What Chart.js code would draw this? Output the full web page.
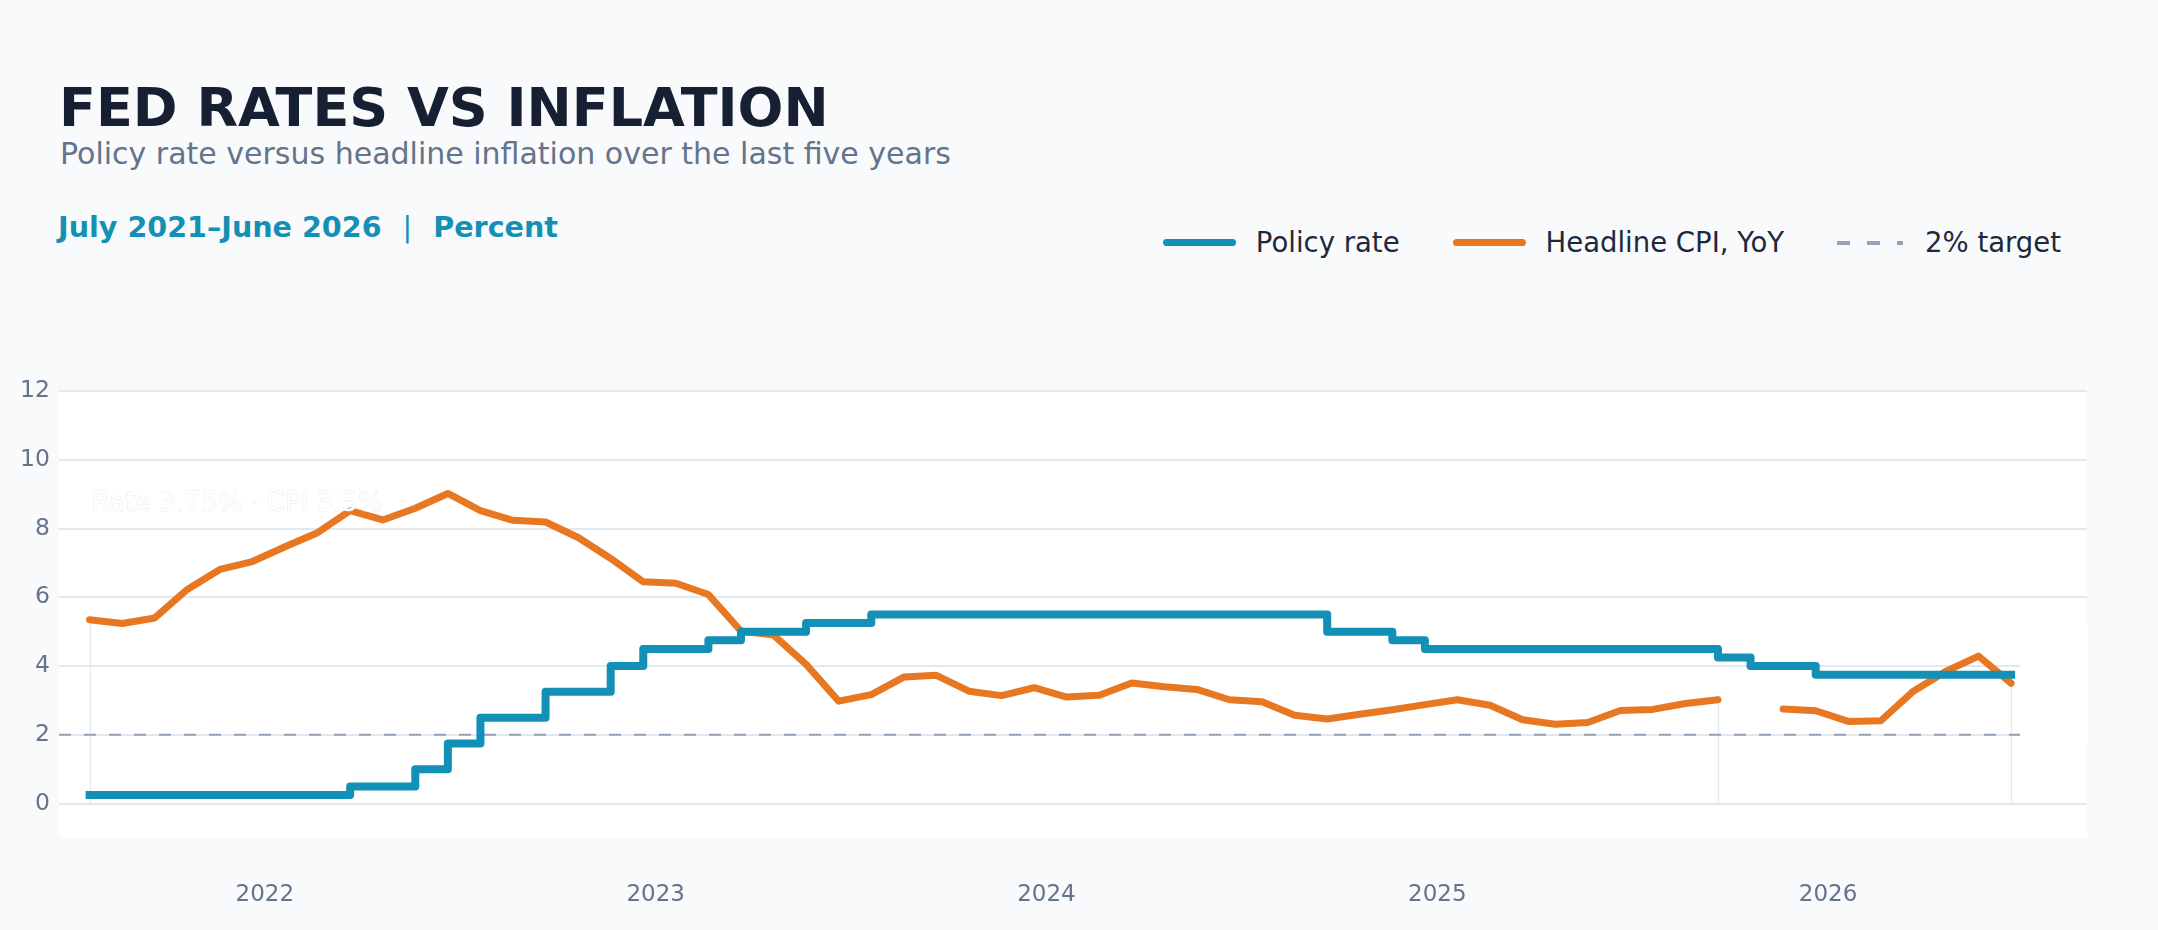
<!DOCTYPE html>
<html>
<head>
<meta charset="utf-8">
<title>Fed rates vs inflation</title>
<script src="https://cdn.jsdelivr.net/npm/chart.js@4.4.1/dist/chart.umd.min.js"></script>
<style>
	html, body { margin: 0; padding: 0; background: #f8fafc; }
	body { width: 2158px; height: 930px; position: relative; overflow: hidden; font-family: "DejaVu Sans", sans-serif; }
	#chart { position: absolute; left: 0; top: 0; }
	.title { position: absolute; left: 59px; top: 81px; font-size: 54px; line-height: 54px; font-weight: bold; color: #172033; white-space: nowrap; }
	.subtitle { position: absolute; left: 60px; top: 139px; font-size: 30px; line-height: 30px; color: #64748b; white-space: nowrap; }
	.period { position: absolute; left: 58px; top: 213px; font-size: 28.6px; line-height: 28px; font-weight: bold; color: #1590b5; white-space: nowrap; }
	.period .sep { margin: 0 21px; font-weight: normal; }
	.legend { position: absolute; right: 97px; top: 229px; display: flex; align-items: center; font-size: 27.5px; line-height: 27px; color: #1e293b; white-space: nowrap; }
	.legend .item { display: flex; align-items: center; margin-left: 53px; }
	.legend .item:first-child { margin-left: 0; }
	.legend .sw { width: 73px; height: 7px; border-radius: 3.5px; margin-right: 20px; }
	.legend .sw.dash { width: 66px; height: 4px; border-radius: 0; margin-right: 22px; background: repeating-linear-gradient(to right, #94a3b8 0 13px, transparent 13px 30px); }
</style>
</head>
<body>
<div class="title">FED RATES VS INFLATION</div>
<div class="subtitle">Policy rate versus headline inflation over the last five years</div>
<div class="period">July 2021–June 2026<span class="sep">|</span>Percent</div>
<div class="legend">
	<div class="item"><span class="sw" style="background:#1290b6"></span>Policy rate</div>
	<div class="item"><span class="sw" style="background:#e87722"></span>Headline CPI, YoY</div>
	<div class="item"><span class="sw dash"></span>2% target</div>
</div>
<canvas id="chart" width="2158" height="930"></canvas>
<script>
// Jul 2021 .. Jun 2026, one entry per month
var monthNames = ['Jan', 'Feb', 'Mar', 'Apr', 'May', 'Jun', 'Jul', 'Aug', 'Sep', 'Oct', 'Nov', 'Dec'];
var months = [];
for (var m = 0; m < 60; m++) {
	var mi = (6 + m) % 12;
	months.push(monthNames[mi] + ' ' + (2021 + Math.floor((6 + m) / 12)));
}

var policyRate = [
	0.25, 0.25, 0.25, 0.25, 0.25, 0.25, 0.25, 0.25, 0.5, 0.5,
	1.0, 1.75, 2.5, 2.5, 3.25, 3.25, 4.0, 4.5, 4.5, 4.75,
	5.0, 5.0, 5.25, 5.25, 5.5, 5.5, 5.5, 5.5, 5.5, 5.5,
	5.5, 5.5, 5.5, 5.5, 5.5, 5.5, 5.5, 5.5, 5.0, 5.0,
	4.75, 4.5, 4.5, 4.5, 4.5, 4.5, 4.5, 4.5, 4.5, 4.5,
	4.25, 4.0, 4.0, 3.75, 3.75, 3.75, 3.75, 3.75, 3.75, 3.75
];

// headline CPI, year over year; Nov 2025 missing
var headlineCpi = [
	5.35, 5.24, 5.40, 6.23, 6.81, 7.04, 7.47, 7.88, 8.52, 8.25,
	8.59, 9.02, 8.52, 8.24, 8.19, 7.74, 7.13, 6.45, 6.41, 6.08,
	5.02, 4.90, 4.05, 2.98, 3.17, 3.68, 3.73, 3.27, 3.14, 3.37,
	3.10, 3.15, 3.51, 3.40, 3.32, 3.02, 2.96, 2.57, 2.46, 2.60,
	2.73, 2.88, 3.02, 2.86, 2.44, 2.31, 2.36, 2.71, 2.74, 2.91,
	3.02, null, 2.75, 2.70, 2.39, 2.41, 3.27, 3.85, 4.29, 3.50
];

var targetRate = 2;
var yTicks = [0, 2, 4, 6, 8, 10, 12];

// year labels sit just before each January
var yearTicks = [];
var yearLabels = [];
months.forEach(function(label, i) {
	if (label.indexOf('Jan') === 0) {
		yearTicks.push(i - 0.62);
		yearLabels.push(label.slice(4));
	}
});

var xMin = -0.94;
var xMax = 61.33;
var last = months.length - 1;

function toPoints(arr) {
	return arr.map(function(v, i) { return {x: i, y: v}; });
}

// white plot panel behind grid
var panel = {
	id: 'panel',
	beforeDraw: function(chart) {
		var a = chart.chartArea, ctx = chart.ctx;
		ctx.save();
		ctx.fillStyle = '#ffffff';
		ctx.fillRect(a.left, a.top, a.right - a.left, a.bottom - a.top);
		ctx.restore();
	}
};

// thin drop lines from CPI down to zero at segment ends
var dropLines = {
	id: 'dropLines',
	beforeDatasetsDraw: function(chart) {
		var xs = chart.scales.x, ys = chart.scales.y, ctx = chart.ctx;
		var idx = [0, 50, last];
		ctx.save();
		ctx.strokeStyle = '#e2e8f0';
		ctx.lineWidth = 1.2;
		idx.forEach(function(i) {
			var px = Math.round(xs.getPixelForValue(i)) + 0.5;
			ctx.beginPath();
			ctx.moveTo(px, ys.getPixelForValue(headlineCpi[i]));
			ctx.lineTo(px, ys.getPixelForValue(0));
			ctx.stroke();
		});
		ctx.restore();
	}
};

// end box and latest value readout
var readout = {
	id: 'readout',
	afterDatasetsDraw: function(chart) {
		var xs = chart.scales.x, ys = chart.scales.y, ctx = chart.ctx, a = chart.chartArea;
		var bx = xs.getPixelForValue(last) + 9;
		var by = ys.getPixelForValue(headlineCpi[last]);
		ctx.save();
		ctx.fillStyle = '#ffffff';
		ctx.fillRect(bx, by - 59, a.right + 1 - bx, 118);

		var txt = 'Rate ' + policyRate[last].toFixed(2) + '% \u00b7 CPI ' + headlineCpi[last].toFixed(1) + '%';
		ctx.font = '26px "DejaVu Sans", sans-serif';
		ctx.textBaseline = 'alphabetic';
		ctx.textAlign = 'left';
		var tx = xs.getPixelForValue(0) + 2;
		var ty = a.top + 120;
		ctx.strokeStyle = 'rgba(214,221,232,0.6)';
		ctx.lineWidth = 1;
		ctx.strokeText(txt, tx, ty);
		ctx.fillStyle = '#ffffff';
		ctx.fillText(txt, tx, ty);
		ctx.restore();
	}
};

Chart.defaults.font.family = '"DejaVu Sans", sans-serif';

new Chart(document.getElementById('chart'), {
	type: 'line',
	data: {
		datasets: [{
			label: 'Policy rate',
			data: toPoints(policyRate),
			stepped: true,
			borderColor: '#1290b6',
			borderWidth: 8,
			borderJoinStyle: 'round',
			borderCapStyle: 'square',
			pointRadius: 0,
			order: 0
		}, {
			label: 'Headline CPI, YoY',
			data: toPoints(headlineCpi),
			borderColor: '#e87722',
			borderWidth: 7,
			borderJoinStyle: 'round',
			borderCapStyle: 'round',
			spanGaps: false,
			pointRadius: 0,
			tension: 0,
			order: 1
		}, {
			label: '2% target',
			data: [{x: xMin, y: targetRate}, {x: xMax, y: targetRate}],
			borderColor: '#94a3b8',
			borderWidth: 2,
			borderDash: [12, 13],
			pointRadius: 0,
			order: 2
		}]
	},
	options: {
		responsive: false,
		animation: false,
		devicePixelRatio: 1,
		layout: {padding: {top: 391, right: 71, bottom: 0, left: 0}},
		plugins: {
			legend: {display: false},
			tooltip: {enabled: false}
		},
		scales: {
			x: {
				type: 'linear',
				min: xMin,
				max: xMax,
				afterBuildTicks: function(s) {
					s.ticks = yearTicks.map(function(v) { return {value: v}; });
				},
				afterFit: function(s) { s.height = 92; },
				grid: {display: false, drawTicks: false},
				border: {display: false},
				ticks: {
					color: '#64748b',
					font: {size: 23},
					padding: 43,
					maxRotation: 0,
					autoSkip: false,
					callback: function(v, i) { return yearLabels[i]; }
				}
			},
			y: {
				min: -1,
				max: 12,
				afterBuildTicks: function(s) {
					s.ticks = yTicks.map(function(v) { return {value: v}; });
				},
				afterFit: function(s) { s.width = 59; },
				grid: {color: '#e2e8f0', lineWidth: 2, drawTicks: false},
				border: {display: false},
				ticks: {
					color: '#64748b',
					font: {size: 23.5},
					padding: 9
				}
			}
		}
	},
	plugins: [panel, dropLines, readout]
});
</script>
</body>
</html>
